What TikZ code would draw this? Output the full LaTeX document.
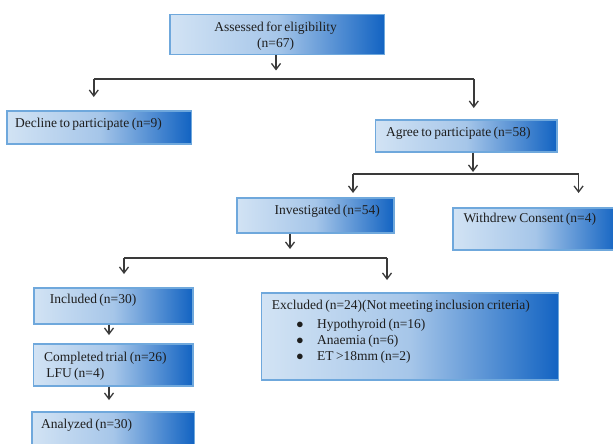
\documentclass[tikz,border=0pt]{standalone}
\usepackage{fontspec}
\setmainfont{Liberation Serif}
\usetikzlibrary{arrows.meta}
\definecolor{boxlight}{HTML}{D2E3F4}
\definecolor{boxmid}{HTML}{A6C6E9}
\definecolor{boxdark}{HTML}{1263C2}
\definecolor{boxedge}{HTML}{6FA8DC}
\definecolor{lnc}{HTML}{3A3A3A}
\definecolor{txc}{HTML}{1E1E1E}
\newcommand\mylblfont{\fontsize{13.5}{16}\selectfont\spaceskip 2.4pt\relax}
\tikzset{
  bx/.style={draw=boxedge, line width=1.5pt, left color=boxlight, right color=boxdark, middle color=boxmid, inner sep=0pt, anchor=north west},
  lbl/.style={anchor=west, inner sep=0pt, text=txc, font=\mylblfont},
  ln/.style={draw=lnc, line width=1.5pt},
  arr/.style={ln, -{Straight Barb[length=6pt,width=9pt,line width=1.3pt]}},
}
\begin{document}
\begin{tikzpicture}[x=1pt,y=-1pt]
\useasboundingbox (0,0) rectangle (613,444);
% boxes
\node[bx, minimum width=214.6, minimum height=40] (assess) at (169.3,14) {};
\node[bx, minimum width=184.5, minimum height=33] (decline) at (6,110) {};
\node[bx, minimum width=181.5, minimum height=32] (agree) at (374.5,119) {};
\node[bx, minimum width=157.3, minimum height=35] (invest) at (236,197) {};
\node[bx, minimum width=165, minimum height=42] (withdrew) at (452,207) {};
\node[bx, minimum width=159, minimum height=36] (incl) at (33.2,287) {};
\node[bx, minimum width=297, minimum height=87] (excl) at (260.8,292) {};
\node[bx, minimum width=159.5, minimum height=42] (compl) at (32.8,343) {};
\node[bx, minimum width=162.2, minimum height=40] (anal) at (31.3,411) {};
% labels
\node[lbl, anchor=center] (tassess) at (275.6,28) {Assessed for eligibility};
\node[lbl, anchor=center] (tassess2) at (275.6,44) {(n=67)};
\node[lbl] (tdecline) at (15,124) {Decline to participate (n=9)};
\node[lbl] (tagree) at (385.8,133) {Agree to participate (n=58)};
\node[lbl] (tinvest) at (274.4,211) {Investigated (n=54)};
\node[lbl] (twith) at (463.3,219) {Withdrew Consent (n=4)};
\node[lbl] (tincl) at (49.6,300) {Included (n=30)};
\node[lbl] (tcompl) at (43.8,358) {Completed trial (n=26)};
\node[lbl] (tlfu) at (46.1,374) {LFU (n=4)};
\node[lbl] (tanal) at (41,425) {Analyzed (n=30)};
\node[lbl] (texcl) at (271.7,306.5) {Excluded (n=24)(Not meeting inclusion criteria)};
\node[lbl, anchor=center] (b1) at (300,325) {$\bullet$};
\node[lbl, anchor=center] (b2) at (300,341) {$\bullet$};
\node[lbl, anchor=center] (b3) at (300,357) {$\bullet$};
\node[lbl] (e1) at (317,325) {Hypothyroid (n=16)};
\node[lbl] (e2) at (317,341) {Anaemia (n=6)};
\node[lbl] (e3) at (317,357) {ET >18mm (n=2)};
% connector points
\coordinate (t1) at (276,70.5);
\coordinate (h1l) at (93.8,79);
\coordinate (h1r) at (473.8,79);
\coordinate (d1) at (93.8,97);
\coordinate (d2) at (473.8,108);
\coordinate (t2) at (473,172);
\coordinate (h2l) at (353,174);
\coordinate (h2r) at (578.6,174);
\coordinate (d3) at (353,193);
\coordinate (d4) at (578.6,193);
\coordinate (t3) at (290,249);
\coordinate (h3l) at (124,258);
\coordinate (h3r) at (387,258);
\coordinate (d5) at (124,274);
\coordinate (d6) at (387,280);
\coordinate (t4) at (109,335);
\coordinate (t5) at (109,400);
% connectors
\draw[arr] (assess.south -| t1) -- (t1);
\draw[ln] (h1l) -- (h1r);
\draw[arr] (h1l) -- (d1);
\draw[arr] (h1r) -- (d2);
\draw[arr] (agree.south -| t2) -- (t2);
\draw[ln] (h2l) -- (h2r);
\draw[arr] (h2l) -- (d3);
\draw[arr] (h2r) -- (d4);
\draw[arr] (invest.south -| t3) -- (t3);
\draw[ln] (h3l) -- (h3r);
\draw[arr] (h3l) -- (d5);
\draw[arr] (h3r) -- (d6);
\draw[arr] (incl.south -| t4) -- (t4);
\draw[arr] (compl.south -| t5) -- (t5);
\end{tikzpicture}
\end{document}
